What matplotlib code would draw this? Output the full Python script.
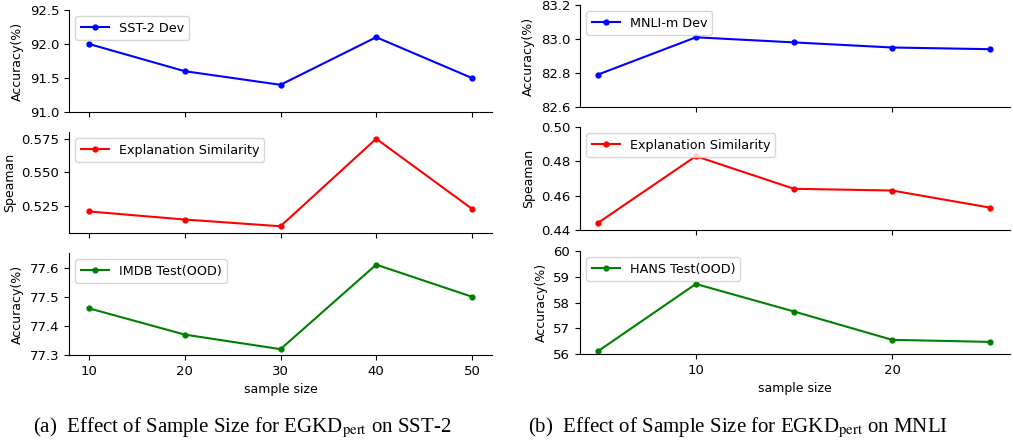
import matplotlib
matplotlib.use("Agg")
import matplotlib.pyplot as plt

# left panel (SST-2)
x_sst = [10, 20, 30, 40, 50]
sst_dev = [92.0, 91.6, 91.4, 92.1, 91.5]
sst_sim = [0.521, 0.515, 0.510, 0.575, 0.523]
imdb_ood = [77.46, 77.37, 77.32, 77.61, 77.50]

# right panel (MNLI)
x_mnli = [5, 10, 15, 20, 25]
mnli_dev = [82.79, 83.01, 82.98, 82.95, 82.94]
mnli_sim = [0.444, 0.483, 0.464, 0.463, 0.453]
hans_ood = [56.1, 58.72, 57.65, 56.55, 56.47]

plt.rcParams["mathtext.fontset"] = "stix"

W, H = 1013, 447
fig = plt.figure(figsize=(W / 100, H / 100), dpi=100)


def add_ax(x0, x1, y0, y1):
    # pixel box -> figure fraction
    return fig.add_axes([x0 / W, 1 - y1 / H, (x1 - x0) / W, (y1 - y0) / H])


def style(ax, ylabel):
    for s in ["top", "right"]:
        ax.spines[s].set_visible(False)
    ax.set_ylabel(ylabel, fontsize=9)
    ax.tick_params(labelsize=9.5)
    ax.legend(loc="upper left", fontsize=9.2, handlelength=2.2)


# left column
a1 = add_ax(69, 492, 10, 112)
a1.plot(x_sst, sst_dev, color="blue", marker="o", markersize=3.5, label="SST-2 Dev")
a1.set_ylim(91.0, 92.5)
a1.set_yticks([91.0, 91.5, 92.0, 92.5])
style(a1, "Accuracy(%)")

a2 = add_ax(69, 492, 132, 233)
a2.plot(x_sst, sst_sim, color="red", marker="o", markersize=3.5, label="Explanation Similarity")
a2.set_ylim(0.505, 0.580)
a2.set_yticks([0.525, 0.550, 0.575])
style(a2, "Speaman")

a3 = add_ax(69, 492, 253, 355)
a3.plot(x_sst, imdb_ood, color="green", marker="o", markersize=3.5, label="IMDB Test(OOD)")
a3.set_ylim(77.3, 77.65)
a3.set_yticks([77.3, 77.4, 77.5, 77.6])
style(a3, "Accuracy(%)")
a3.set_xlabel("sample size", fontsize=9)

for a in (a1, a2, a3):
    a.set_xlim(7.9, 52.1)
    a.set_xticks(x_sst)
for a in (a1, a2):
    a.tick_params(labelbottom=False)

# right column
b1 = add_ax(580, 1010, 5, 107)
b1.plot(x_mnli, mnli_dev, color="blue", marker="o", markersize=3.5, label="MNLI-m Dev")
b1.set_ylim(82.6, 83.2)
b1.set_yticks([82.6, 82.8, 83.0, 83.2])
style(b1, "Accuracy(%)")

b2 = add_ax(580, 1010, 127, 230)
b2.plot(x_mnli, mnli_sim, color="red", marker="o", markersize=3.5, label="Explanation Similarity")
b2.set_ylim(0.44, 0.50)
b2.set_yticks([0.44, 0.46, 0.48, 0.50])
style(b2, "Speaman")

b3 = add_ax(580, 1010, 251, 354)
b3.plot(x_mnli, hans_ood, color="green", marker="o", markersize=3.5, label="HANS Test(OOD)")
b3.set_ylim(56, 60)
b3.set_yticks([56, 57, 58, 59, 60])
style(b3, "Accuracy(%)")
b3.set_xlabel("sample size", fontsize=9)

for b in (b1, b2, b3):
    b.set_xlim(4.1, 26.0)
    b.set_xticks([10, 20])
for b in (b1, b2):
    b.tick_params(labelbottom=False)

fig.text(242 / W, 1 - 428 / H, r"(a)  Effect of Sample Size for EGKD$_{\rm pert}$ on SST-2",
         ha="center", va="center", fontsize=15, family="Liberation Serif")
fig.text(738 / W, 1 - 428 / H, r"(b)  Effect of Sample Size for EGKD$_{\rm pert}$ on MNLI",
         ha="center", va="center", fontsize=15, family="Liberation Serif")

fig.savefig("out.png", dpi=100)
